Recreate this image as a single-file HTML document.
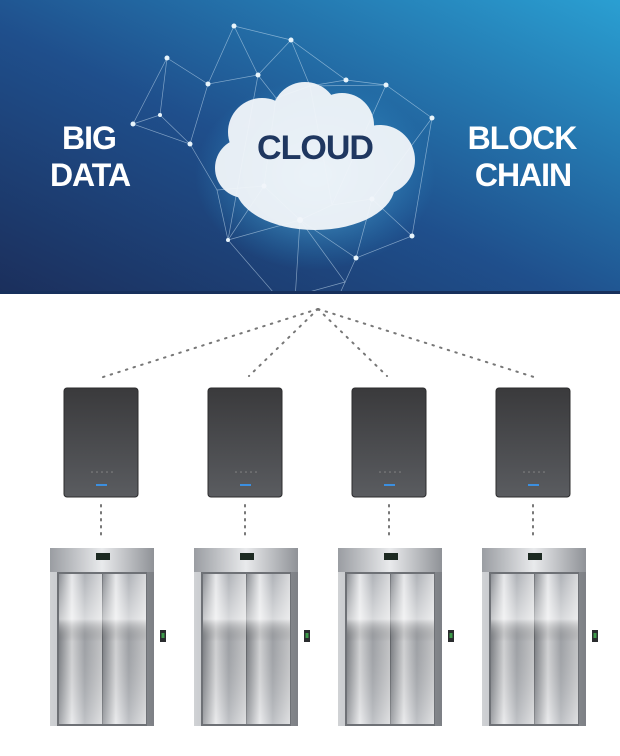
<!DOCTYPE html>
<html><head><style>
html,body{margin:0;padding:0;background:#fff;}
body{width:620px;height:756px;overflow:hidden;position:relative;font-family:"Liberation Sans",sans-serif;}
</style></head><body>
<svg width="620" height="756" viewBox="0 0 620 756" xmlns="http://www.w3.org/2000/svg" style="position:absolute;left:0;top:0">
<defs>
<clipPath id="bn"><rect x="0" y="0" width="620" height="291"/></clipPath>
<linearGradient id="bg" x1="0" y1="1" x2="1" y2="0">
<stop offset="0" stop-color="#1b2f5c"/><stop offset="0.45" stop-color="#1f4f8c"/><stop offset="1" stop-color="#2a9fd2"/>
</linearGradient>
<radialGradient id="glow" cx="0.5" cy="0.5" r="0.5">
<stop offset="0" stop-color="#7fd6f5" stop-opacity="0.8"/><stop offset="1" stop-color="#2aa0d8" stop-opacity="0"/>
</radialGradient>
<linearGradient id="box" x1="0" y1="0" x2="0" y2="1">
<stop offset="0" stop-color="#3a3a3c"/><stop offset="1" stop-color="#5a5c60"/>
</linearGradient>
<linearGradient id="door" x1="0" y1="0" x2="1" y2="0">
<stop offset="0" stop-color="#8d9095"/><stop offset="0.3" stop-color="#e6e7e9"/><stop offset="0.6" stop-color="#b0b3b8"/><stop offset="1" stop-color="#d8d9db"/>
</linearGradient>
<linearGradient id="doorv" x1="0" y1="0" x2="0" y2="1">
<stop offset="0" stop-color="#fff" stop-opacity="0"/><stop offset="0.3" stop-color="#fff" stop-opacity="0.5"/><stop offset="0.45" stop-color="#000" stop-opacity="0.1"/><stop offset="1" stop-color="#fff" stop-opacity="0.2"/>
</linearGradient>
<linearGradient id="head" x1="0" y1="0" x2="1" y2="0">
<stop offset="0" stop-color="#9a9da2"/><stop offset="0.5" stop-color="#e9eaec"/><stop offset="1" stop-color="#8f9297"/>
</linearGradient>
<linearGradient id="frame" x1="0" y1="0" x2="1" y2="0">
<stop offset="0" stop-color="#d0d2d5"/><stop offset="1" stop-color="#7d8085"/>
</linearGradient>
<g id="unit">
<rect x="64" y="388" width="74" height="109" rx="3" fill="url(#box)" stroke="#2c2c2e"/>
<g fill="#888"><circle cx="92" cy="472" r="0.8"/><circle cx="97" cy="472" r="0.8"/><circle cx="102" cy="472" r="0.8"/><circle cx="107" cy="472" r="0.8"/><circle cx="112" cy="472" r="0.8"/></g>
<rect x="96" y="484" width="11" height="2" fill="#3b8fe0"/>
<line x1="101" y1="505" x2="101" y2="540" stroke="#777" stroke-width="2" stroke-dasharray="1.5 5.5" stroke-linecap="round"/>
<rect x="50" y="548" width="104" height="178" fill="url(#frame)"/>
<rect x="50" y="548" width="104" height="24" fill="url(#head)"/>
<rect x="96" y="553" width="14" height="7" fill="#1d2a22"/>
<rect x="57" y="572" width="90" height="154" fill="#6e7176"/>
<rect x="59" y="574" width="43" height="150" fill="url(#door)"/>
<rect x="103" y="574" width="43" height="150" fill="url(#door)"/>
<rect x="59" y="574" width="87" height="150" fill="url(#doorv)"/>
<rect x="160" y="630" width="6" height="12" fill="#2a2c2e"/>
<rect x="161.5" y="633" width="3" height="5" fill="#3d9a4a"/>
</g>
</defs>
<rect x="0" y="0" width="620" height="292" fill="url(#bg)"/>
<rect x="0" y="291" width="620" height="3" fill="#17305c"/>
<g clip-path="url(#bn)">
<ellipse cx="315" cy="175" rx="120" ry="95" fill="url(#glow)"/>
<g stroke="#cfe6f5" stroke-opacity="0.55" stroke-width="0.7" fill="none">
<path d="M234 26 L291 40 L346 80 L386 85 L432 118 L412 236 L356 258 L327 322 L280 300 L228 240 L217 190 L190 144 L133 124 L167 58 L208 84 L234 26 L258 75 L291 40 L310 86 L346 80"/>
<path d="M167 58 L160 115 L133 124 M160 115 L190 144 L208 84 L258 75 L276 98 L310 86 L386 85 M276 98 L264 186 L300 220 L356 258 M300 220 L332 205 L372 199 L412 236 M264 186 L228 240 L300 220 L345 282 L280 300 M372 199 L432 118 M332 205 L386 85 M264 186 L217 190 M310 86 L332 205 M258 75 L228 240 M300 220 L295 300 M356 258 L372 199"/>
</g>
</g>
<g fill="#e8f4fb">
<circle cx="234" cy="26" r="2.5"/><circle cx="291" cy="40" r="2.5"/><circle cx="346" cy="80" r="2.5"/><circle cx="386" cy="85" r="2.5"/><circle cx="432" cy="118" r="2.5"/><circle cx="167" cy="58" r="2.5"/><circle cx="208" cy="84" r="2.5"/><circle cx="258" cy="75" r="2.5"/><circle cx="133" cy="124" r="2.5"/><circle cx="190" cy="144" r="2.5"/><circle cx="160" cy="115" r="2"/><circle cx="264" cy="186" r="2.5"/><circle cx="300" cy="220" r="3"/><circle cx="372" cy="199" r="2.5"/><circle cx="412" cy="236" r="2.5"/><circle cx="356" cy="258" r="2.5"/><circle cx="228" cy="240" r="2"/>
</g>
<g fill="#f2f6fa" opacity="0.95">
<circle cx="262" cy="132" r="34"/><circle cx="305" cy="115" r="33"/><circle cx="342" cy="125" r="32"/><circle cx="380" cy="160" r="35"/><circle cx="245" cy="168" r="30"/><ellipse cx="315" cy="185" rx="80" ry="45"/>
</g>
<text x="315" y="159" text-anchor="middle" font-weight="bold" font-size="34" fill="#1f3760" letter-spacing="-1">CLOUD</text>
<g font-weight="bold" font-size="32" fill="#fff" text-anchor="middle" letter-spacing="-1">
<text x="89" y="149">BIG</text><text x="90" y="186">DATA</text>
<text x="522" y="149">BLOCK</text><text x="523" y="186">CHAIN</text>
</g>
<g stroke="#777" stroke-width="2" stroke-dasharray="1.5 6.5" stroke-linecap="round">
<line x1="318" y1="309" x2="100" y2="378"/>
<line x1="318" y1="309" x2="249" y2="376"/>
<line x1="318" y1="309" x2="387" y2="376"/>
<line x1="318" y1="309" x2="537" y2="378"/>
</g>
<use href="#unit"/>
<use href="#unit" x="144"/>
<use href="#unit" x="288"/>
<use href="#unit" x="432"/>
</svg>
</body></html>
